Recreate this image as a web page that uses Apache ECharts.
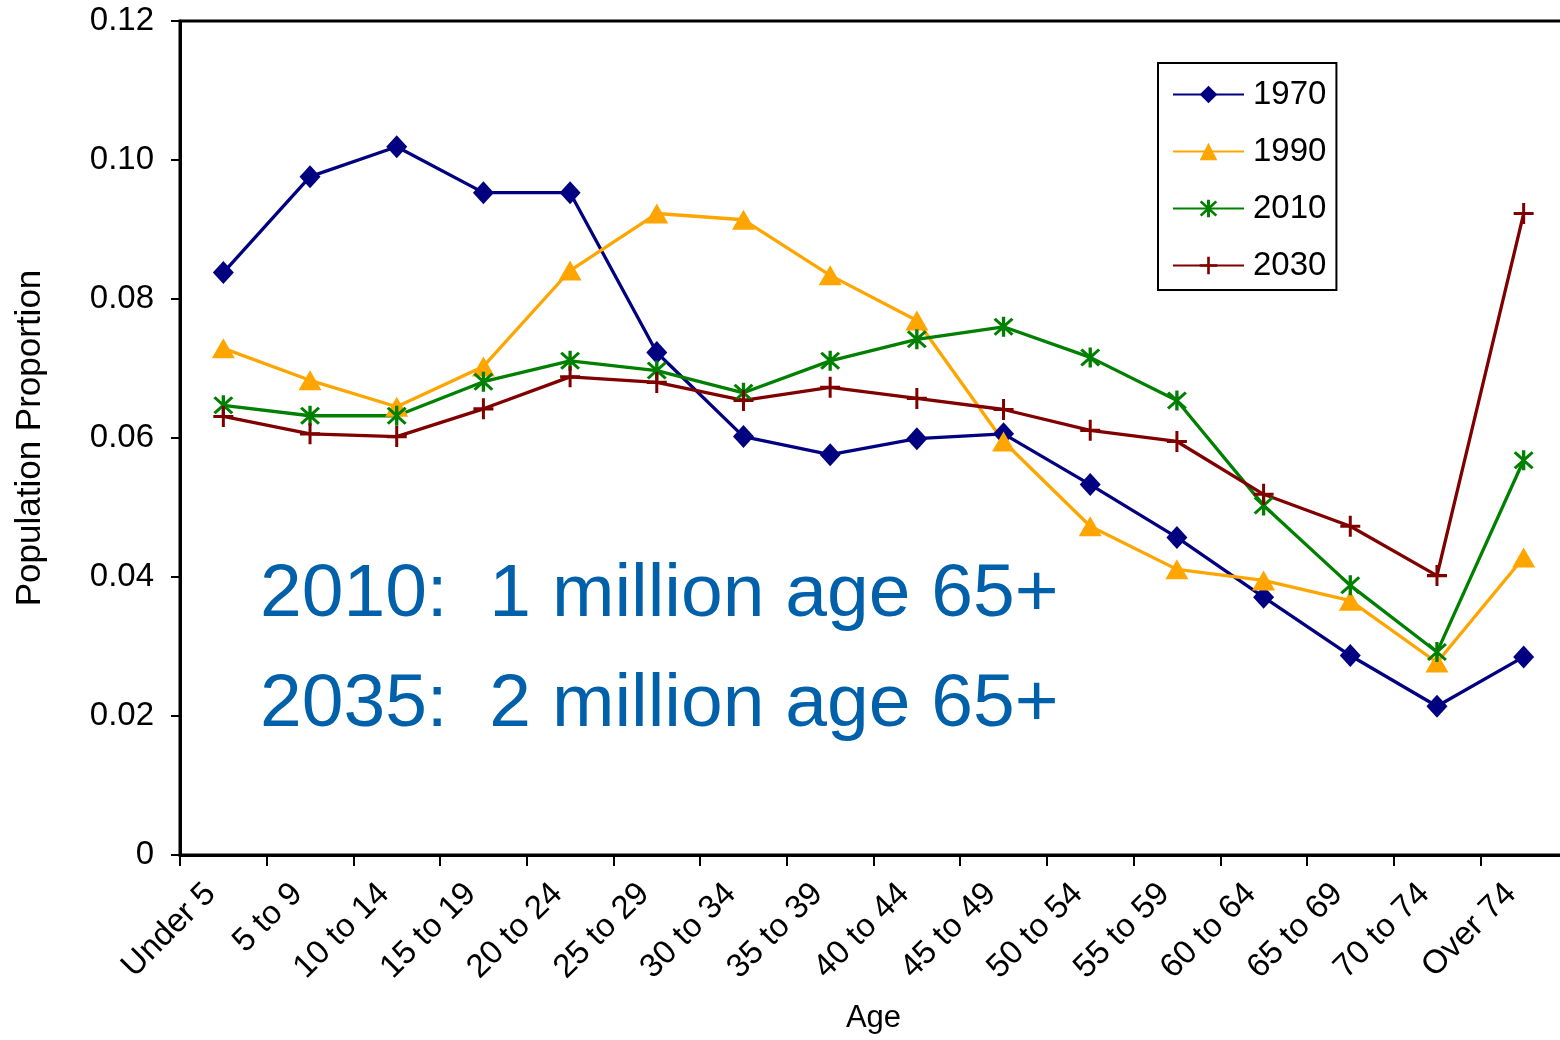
<!DOCTYPE html>
<html>
<head>
<meta charset="utf-8">
<title>Population Proportion by Age</title>
<script src="https://cdn.jsdelivr.net/npm/echarts@6/dist/echarts.min.js"></script>
<style>
  html, body { margin: 0; padding: 0; background: #ffffff; }
  #chart { width: 1560px; height: 1040px; }
</style>
</head>
<body>
<div id="chart"></div>
<script>
// Age groups along the x axis
const ageGroups = ['Under 5', '5 to 9', '10 to 14', '15 to 19', '20 to 24', '25 to 29',
  '30 to 34', '35 to 39', '40 to 44', '45 to 49', '50 to 54', '55 to 59',
  '60 to 64', '65 to 69', '70 to 74', 'Over 74'];

// Share of population in each age group, by year
const pop1970 = [0.0838, 0.0976, 0.1019, 0.0953, 0.0953, 0.0723, 0.0602, 0.0576,
  0.0599, 0.0606, 0.0533, 0.0457, 0.0371, 0.0287, 0.0214, 0.0285];
const pop1990 = [0.0729, 0.0683, 0.0645, 0.0703, 0.0841, 0.0923, 0.0914, 0.0834,
  0.0769, 0.0595, 0.0473, 0.0411, 0.0395, 0.0366, 0.0277, 0.0428];
const pop2010 = [0.0647, 0.0632, 0.0632, 0.0681, 0.0711, 0.0697, 0.0665, 0.0711,
  0.0742, 0.0760, 0.0716, 0.0654, 0.0503, 0.0388, 0.0292, 0.0568];
const pop2030 = [0.0631, 0.0606, 0.0602, 0.0642, 0.0688, 0.0680, 0.0654, 0.0673,
  0.0657, 0.0641, 0.0611, 0.0595, 0.0519, 0.0473, 0.0402, 0.0923];

const seriesNames = ['1970', '1990', '2010', '2030'];
const noteLines = ['2010:  1 million age 65+', '2035:  2 million age 65+'];

const FONT = "'Liberation Sans', Arial, sans-serif";

// Marker shapes drawn as filled outlines
const plusPath = 'path://M8.5 0H11.5V20H8.5Z M0 8.5H20V11.5H0Z';
const starPath = 'path://M8.5 0H11.5V20H8.5Z M1 3L3 1L19 17L17 19Z M17 1L19 3L3 19L1 17Z';

function lineSeries(name, data, color, symbol, size) {
  return {
    name: name,
    type: 'line',
    data: data,
    symbol: symbol,
    symbolSize: size,
    showAllSymbol: true,
    lineStyle: { color: color, width: 3.3 },
    itemStyle: { color: color, borderWidth: 0 },
    emphasis: { disabled: true }
  };
}

const chart = echarts.init(document.getElementById('chart'), null, { renderer: 'canvas' });

chart.setOption({
  animation: false,
  backgroundColor: '#ffffff',
  textStyle: { fontFamily: FONT },
  grid: {
    left: 180, right: -7, top: 21, bottom: 185,
    containLabel: false,
    outerBoundsMode: 'none',
    show: true, borderColor: '#000000', borderWidth: 3, backgroundColor: 'transparent'
  },
  legend: {
    data: seriesNames,
    orient: 'vertical',
    left: 1158,
    top: 63,
    borderColor: '#000000',
    borderWidth: 2,
    padding: [15, 10, 8, 14],
    itemWidth: 71,
    itemHeight: 22,
    itemGap: 24,
    selectedMode: false,
    textStyle: { fontFamily: FONT, fontSize: 33, color: '#000000', padding: [0, 0, 0, 4] }
  },
  xAxis: {
    type: 'category',
    data: ageGroups,
    boundaryGap: true,
    name: 'Age',
    nameLocation: 'middle',
    nameGap: 148,
    nameTextStyle: { fontFamily: FONT, fontSize: 31, color: '#000000' },
    axisLine: { lineStyle: { color: '#000000', width: 3 } },
    axisTick: { show: true, length: 11, lineStyle: { color: '#000000', width: 2 } },
    axisLabel: {
      rotate: 45,
      margin: 21,
      padding: [0, 18, 0, 0],
      interval: 0,
      hideOverlap: false,
      fontFamily: FONT,
      fontSize: 33,
      color: '#000000'
    },
    splitLine: { show: false }
  },
  yAxis: {
    type: 'value',
    min: 0,
    max: 0.12,
    interval: 0.02,
    name: 'Population Proportion',
    nameLocation: 'middle',
    nameGap: 132,
    nameTextStyle: { fontFamily: FONT, fontSize: 35, color: '#000000' },
    axisLine: { show: true, lineStyle: { color: '#000000', width: 3 } },
    axisTick: { show: true, length: 9, lineStyle: { color: '#000000', width: 2 } },
    axisLabel: {
      margin: 26,
      fontFamily: FONT,
      fontSize: 33,
      color: '#000000',
      formatter: function (v) { return v === 0 ? '0' : v.toFixed(2); }
    },
    splitLine: { show: false }
  },
  graphic: [
    {
      type: 'text', left: 260, top: 558, silent: true,
      style: { text: noteLines[0], fill: '#0060AA', font: '75px ' + FONT }
    },
    {
      type: 'text', left: 260, top: 668, silent: true,
      style: { text: noteLines[1], fill: '#0060AA', font: '75px ' + FONT }
    }
  ],
  series: [
    lineSeries(seriesNames[0], pop1970, '#000080', 'diamond', [21, 23]),
    lineSeries(seriesNames[1], pop1990, '#FFA500', 'triangle', [23, 20]),
    lineSeries(seriesNames[2], pop2010, '#008000', starPath, [20, 20]),
    lineSeries(seriesNames[3], pop2030, '#800000', plusPath, [20, 21])
  ]
});
</script>
</body>
</html>
